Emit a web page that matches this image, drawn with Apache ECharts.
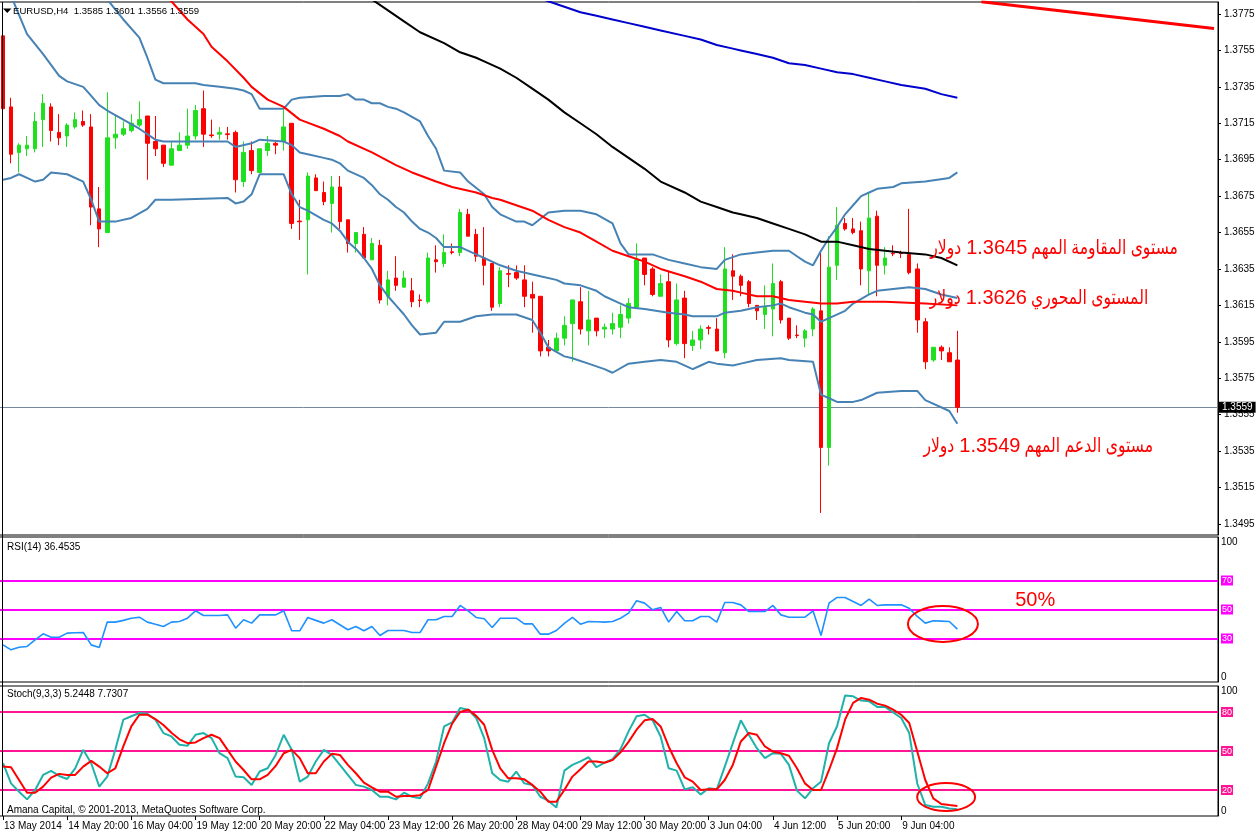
<!DOCTYPE html>
<html><head><meta charset="utf-8">
<script src="https://cdn.jsdelivr.net/npm/echarts@6/dist/echarts.min.js"></script>
<style>html,body{margin:0;padding:0;background:#fff}#c{width:1258px;height:835px}</style>
</head><body><div id="c"></div>
<script>
// ---------- categories (H4 bars) ----------
const times = [
"13 May 12:00","13 May 16:00","13 May 20:00",
"14 May 00:00","14 May 04:00","14 May 08:00","14 May 12:00","14 May 16:00","14 May 20:00",
"15 May 00:00","15 May 04:00","15 May 08:00","15 May 12:00","15 May 16:00","15 May 20:00",
"16 May 00:00","16 May 04:00","16 May 08:00","16 May 12:00","16 May 16:00","16 May 20:00",
"19 May 00:00","19 May 04:00","19 May 08:00","19 May 12:00","19 May 16:00","19 May 20:00",
"20 May 00:00","20 May 04:00","20 May 08:00","20 May 12:00","20 May 16:00","20 May 20:00",
"21 May 00:00","21 May 04:00","21 May 08:00","21 May 12:00","21 May 16:00","21 May 20:00",
"22 May 00:00","22 May 04:00","22 May 08:00","22 May 12:00","22 May 16:00","22 May 20:00",
"23 May 00:00","23 May 04:00","23 May 08:00","23 May 12:00","23 May 16:00","23 May 20:00",
"26 May 00:00","26 May 04:00","26 May 08:00","26 May 12:00","26 May 16:00","26 May 20:00",
"27 May 00:00","27 May 04:00","27 May 08:00","27 May 12:00","27 May 16:00","27 May 20:00",
"28 May 00:00","28 May 04:00","28 May 08:00","28 May 12:00","28 May 16:00","28 May 20:00",
"29 May 00:00","29 May 04:00","29 May 08:00","29 May 12:00","29 May 16:00","29 May 20:00",
"30 May 00:00","30 May 04:00","30 May 08:00","30 May 12:00","30 May 16:00","30 May 20:00",
"2 Jun 00:00","2 Jun 04:00","2 Jun 08:00","2 Jun 12:00","2 Jun 16:00","2 Jun 20:00",
"3 Jun 00:00","3 Jun 04:00","3 Jun 08:00","3 Jun 12:00","3 Jun 16:00","3 Jun 20:00",
"4 Jun 00:00","4 Jun 04:00","4 Jun 08:00","4 Jun 12:00","4 Jun 16:00","4 Jun 20:00",
"5 Jun 00:00","5 Jun 04:00","5 Jun 08:00","5 Jun 12:00","5 Jun 16:00","5 Jun 20:00",
"6 Jun 00:00","6 Jun 04:00","6 Jun 08:00","6 Jun 12:00","6 Jun 16:00","6 Jun 20:00",
"9 Jun 00:00","9 Jun 04:00","9 Jun 08:00","9 Jun 12:00","9 Jun 16:00","9 Jun 20:00",
"10 Jun 00:00","10 Jun 04:00","10 Jun 08:00"];
const xTickLabels = ["13 May 2014","14 May 20:00","16 May 04:00","19 May 12:00","20 May 20:00","22 May 04:00","23 May 12:00","26 May 20:00","28 May 04:00","29 May 12:00","30 May 20:00","3 Jun 04:00","4 Jun 12:00","5 Jun 20:00","9 Jun 04:00"];
const xTickStep = 8;
const priceTicks = [1.3495,1.3515,1.3535,1.3555,1.3575,1.3595,1.3615,1.3635,1.3655,1.3675,1.3695,1.3715,1.3735,1.3755,1.3775];
const rsiTicks = [0,30,50,70,100];
const rsiLevels = [30,50,70];
const stochTicks = [0,20,50,80,100];
const stochLevels = [20,50,80];

// ---------- candles ----------
const open = [1.3763,1.3724,1.3699,1.3701,1.3701,1.3717,1.3724,1.3710,1.3708,1.3713,
1.3716,1.3713,1.3668,1.3655,1.3707,1.3709,1.3711,1.3714,1.3719,1.3705,
1.3703,1.3692,1.3700,1.3703,1.3708,1.3723,1.37086,1.3709,1.37092,1.3710,
1.3683,1.3700,1.3688,1.3700,1.3704,1.3705,1.3715,1.36613,1.3662,1.3685,
1.3677,1.3671,1.3680,1.3662,1.3649,1.3654,1.3640,1.3648,1.3620,1.3630,
1.3625,1.3623,1.36180,1.3617,1.3640,1.3638,1.36444,1.3644,1.3665,1.3654,
1.3641,1.3638,1.3616,1.36325,1.3633,1.3629,1.3621,1.3620,1.3592,1.3590,
1.3597,1.3605,1.3617,1.3601,1.3608,1.3602,1.3602,1.3603,1.3608,1.3614,
1.3641,1.3635,1.3620,1.3628,1.3594,1.3619,1.3593,1.3596,1.36028,1.3602,
1.3589,1.3634,1.3631,1.3628,1.3615,1.3610,1.3613,1.3628,1.3608,1.35987,
1.3597,1.3602,1.3612,1.3537,1.3637,1.3660,1.3657,1.3656,1.3634,1.3664,
1.3637,1.36436,1.36438,1.3643,1.3635,1.3606,1.3585,1.3592,1.3589,1.3585];
const high = [1.3764,1.3729,1.3704,1.3708,1.3721,1.3731,1.3726,1.3720,1.3715,1.3721,
1.3722,1.3720,1.3680,1.3732,1.3719,1.3716,1.3720,1.3727,1.3719,1.3719,
1.3703,1.3705,1.3710,1.3723,1.3725,1.3733,1.3717,1.3713,1.3713,1.3711,
1.3705,1.3705,1.3701,1.3708,1.3705,1.3723,1.3715,1.3673,1.3688,1.3687,
1.3683,1.3686,1.3686,1.3662,1.3655,1.3658,1.3652,1.3651,1.3634,1.3642,
1.3634,1.3630,1.3621,1.3644,1.3648,1.3654,1.3649,1.3668,1.3668,1.3657,
1.3658,1.3638,1.3636,1.3637,1.3637,1.3637,1.3628,1.3620,1.3596,1.3600,
1.3609,1.3618,1.3625,1.3623,1.3608,1.3605,1.3611,1.3615,1.3619,1.3649,
1.3641,1.3636,1.3632,1.3634,1.3627,1.3623,1.3601,1.3604,1.3604,1.3608,
1.3647,1.3643,1.3632,1.3629,1.3615,1.3626,1.3638,1.3629,1.3608,1.3604,
1.3602,1.3614,1.3644,1.3653,1.3669,1.3663,1.3663,1.3661,1.3677,1.3667,
1.3647,1.3648,1.3645,1.3668,1.3638,1.3608,1.3592,1.3593,1.3592,1.3601];
const low = [1.3698,1.3693,1.3688,1.3697,1.3699,1.3702,1.3705,1.3703,1.3702,1.3712,
1.3713,1.3659,1.3647,1.3655,1.3701,1.3708,1.3710,1.3713,1.3684,1.3697,
1.3691,1.3692,1.3700,1.3701,1.3706,1.3702,1.3707,1.3706,1.3706,1.3677,
1.3680,1.3687,1.3688,1.3697,1.3698,1.3700,1.3657,1.3651,1.3632,1.3678,
1.3670,1.3655,1.3657,1.3644,1.3644,1.3641,1.3640,1.3616,1.3615,1.3623,
1.3625,1.3614,1.3614,1.3616,1.3633,1.3636,1.3643,1.3642,1.3653,1.3639,
1.3626,1.3612,1.3614,1.3625,1.3629,1.3614,1.3600,1.3587,1.3587,1.3590,
1.3593,1.3584,1.3599,1.3593,1.3598,1.3597,1.3599,1.3597,1.3605,1.3614,
1.3626,1.3620,1.3620,1.3592,1.3593,1.3586,1.3590,1.3591,1.3599,1.3590,
1.3586,1.3618,1.3620,1.3614,1.3607,1.3602,1.3598,1.3605,1.3596,1.3597,
1.3592,1.3598,1.3501,1.3527,1.3629,1.3656,1.3654,1.3626,1.3621,1.3620,
1.3632,1.3642,1.3641,1.3632,1.3600,1.3580,1.3584,1.3585,1.3584,1.3556];
const close = [1.3723,1.3698,1.3703,1.3703,1.3716,1.3726,1.3711,1.3707,1.3714,1.3717,
1.3714,1.3669,1.3657,1.3707,1.3709,1.3712,1.3715,1.3717,1.3704,1.3701,
1.3693,1.3701,1.3703,1.3708,1.3722,1.3709,1.37082,1.3710,1.37088,1.3684,
1.3699,1.3689,1.3701,1.3704,1.3703,1.3713,1.3660,1.36609,1.3686,1.3678,
1.3672,1.3680,1.3661,1.3649,1.3655,1.3641,1.3649,1.3618,1.3629,1.3626,
1.3630,1.3617,1.36177,1.3641,1.3639,1.3644,1.3644,1.3666,1.3653,1.3642,
1.3637,1.3614,1.3634,1.36321,1.3630,1.3620,1.3619,1.3590,1.3590,1.3597,
1.3604,1.3618,1.3602,1.3607,1.3601,1.3603,1.3605,1.3610,1.3616,1.3640,
1.3632,1.3621,1.3627,1.3596,1.3618,1.3594,1.3596,1.3602,1.36024,1.3590,
1.3635,1.3631,1.3626,1.3616,1.3612,1.3614,1.3627,1.3607,1.3597,1.35984,
1.3601,1.3613,1.3537,1.3636,1.3659,1.3657,1.3655,1.3635,1.3663,1.3637,
1.3641,1.36433,1.36435,1.3633,1.3607,1.3584,1.3592,1.3590,1.3584,1.3559];

// ---------- overlays on the price panel: [bar index, price] ----------
const bbUpper = [[0,1.3818],[5,1.3810],[10,1.3795],[13,1.3783],[15,1.3772],[17,1.3762],[18,1.3751],[19,1.3739],[20,1.3737],[24,1.3737],[25,1.3736],[27,1.3735],[29,1.3734],[30,1.3733],[31,1.3731],[32,1.3723],[35,1.3723],[36,1.3728],[37,1.3729],[40,1.3730],[42,1.3730],[43,1.3731],[44,1.3728],[45,1.3728],[46,1.3726],[47,1.3726],[48,1.3724],[49,1.3723],[50,1.3721],[52,1.3716],[53,1.3708],[54,1.3701],[55,1.3689],[57,1.3688],[58,1.3683],[60,1.3676],[61,1.3669],[62,1.3665],[64,1.3661],[65,1.3661],[66,1.3659],[68,1.3666],[70,1.3667],[72,1.3667],[74,1.3665],[76,1.3660],[77,1.3649],[78,1.3643],[81,1.3643],[83,1.3640],[85,1.3638],[87,1.3636],[89,1.3635],[90,1.3640],[92,1.3643],[94,1.3644],[96,1.3645],[98,1.3645],[99,1.3642],[100,1.3639],[101,1.3637],[102,1.3645],[103,1.3652],[104,1.3658],[105,1.3665],[106,1.3670],[107,1.3675],[108,1.3677],[109,1.3679],[111,1.3680],[112,1.3682],[115,1.3683],[118,1.3685],[119,1.3688]];
const bbMiddle = [[0,1.3796],[1,1.3785],[3,1.3764],[5,1.3753],[7,1.3741],[8,1.3738],[10,1.3735],[11,1.3730],[12,1.3725],[13,1.3722],[15,1.3717],[17,1.3712],[19,1.3706],[20,1.3705],[28,1.3705],[29,1.3702],[31,1.3704],[32,1.3706],[35,1.3705],[36,1.3703],[37,1.3699],[38,1.3698],[40,1.3696],[41,1.3695],[42,1.3693],[43,1.3689],[45,1.3685],[46,1.3681],[47,1.3676],[48,1.3673],[49,1.3669],[50,1.3666],[51,1.3661],[52,1.3657],[53,1.3655],[54,1.3652],[55,1.3647],[57,1.3647],[59,1.3643],[60,1.3641],[62,1.3637],[64,1.3634],[67,1.3631],[69,1.3629],[70,1.3627],[72,1.3626],[74,1.3623],[75,1.3620],[77,1.3616],[78,1.3614],[80,1.3613],[83,1.3611],[85,1.3610],[86,1.3609],[89,1.3609],[90,1.3611],[92,1.3612],[94,1.3614],[96,1.3615],[97,1.3616],[98,1.3614],[100,1.3611],[101,1.3610],[102,1.3606],[103,1.3608],[105,1.3612],[106,1.3616],[108,1.3621],[109,1.3623],[111,1.3624],[113,1.3625],[115,1.3624],[117,1.3621],[119,1.3619]];
const bbLower = [[0,1.3684],[1,1.3685],[2,1.3687],[3,1.3685],[4,1.3683],[5,1.3684],[6,1.3688],[8,1.3687],[10,1.3683],[11,1.3673],[12,1.3661],[14,1.3661],[16,1.3663],[18,1.3668],[19,1.3673],[21,1.3673],[28,1.3674],[29,1.3671],[30,1.3672],[31,1.3676],[32,1.3687],[35,1.3687],[36,1.3676],[37,1.3669],[38,1.3667],[40,1.3662],[41,1.3660],[42,1.3656],[43,1.3650],[44,1.3646],[45,1.3641],[46,1.3635],[47,1.3626],[48,1.3620],[49,1.3615],[50,1.3610],[51,1.3604],[52,1.3599],[54,1.3600],[55,1.3606],[57,1.3606],[59,1.3609],[61,1.3610],[64,1.3610],[66,1.3607],[67,1.3600],[68,1.3592],[70,1.3587],[71,1.3586],[73,1.3583],[75,1.3580],[76,1.3578],[78,1.3583],[80,1.3584],[82,1.3585],[84,1.3584],[86,1.3580],[87,1.3582],[88,1.3584],[89,1.3583],[91,1.3582],[92,1.3583],[94,1.3585],[97,1.3586],[98,1.3585],[101,1.3584],[102,1.3566],[103,1.3564],[104,1.3562],[106,1.3562],[107,1.3563],[109,1.3567],[112,1.3568],[114,1.3568],[115,1.3563],[118,1.3557],[119,1.3550]];
const maRed = [[0,1.3822],[5,1.3812],[10,1.3803],[15,1.3795],[20,1.3785],[21,1.3782],[23,1.3772],[25,1.3764],[26,1.3757],[28,1.3749],[30,1.3740],[31,1.3735],[33,1.3728],[35,1.3724],[37,1.3717],[40,1.3712],[42,1.3708],[43,1.3705],[46,1.3699],[49,1.3692],[51,1.3688],[54,1.3683],[56,1.3680],[59,1.3677],[61,1.3674],[62,1.3673],[64,1.3670],[66,1.3667],[68,1.3662],[70,1.3658],[72,1.3655],[74,1.3650],[76,1.3645],[78,1.3642],[80,1.3639],[82,1.3635],[85,1.3631],[87,1.3628],[89,1.3624],[91,1.3623],[92,1.3622],[94,1.3620],[96,1.3620],[98,1.3618],[100,1.3617],[102,1.3616],[104,1.3616],[106,1.3617],[110,1.3617],[115,1.3616],[119,1.3615]];
const maBlack = [[36,1.3812],[40,1.3800],[44,1.3789],[46,1.3783],[48,1.3777],[50,1.3771],[52,1.3765],[55,1.3759],[57,1.3754],[59,1.3751],[60,1.3749],[62,1.3745],[64,1.3740],[66,1.3734],[68,1.3728],[70,1.3721],[72,1.3715],[74,1.3709],[76,1.3702],[78,1.3696],[80,1.3690],[82,1.3683],[85,1.3677],[87,1.3672],[89,1.3669],[91,1.3666],[92,1.3665],[94,1.3663],[96,1.3660],[98,1.3657],[100,1.3654],[102,1.3650],[104,1.3650],[106,1.3648],[108,1.3646],[110,1.3645],[112,1.3644],[115,1.3643],[117,1.3641],[119,1.3637]];
const maBlue = [[56,1.3805],[60,1.3796],[64,1.3789],[68,1.3782],[70,1.3779],[72,1.3776],[74,1.3774],[76,1.3772],[78,1.3770],[80,1.3768],[82,1.3766],[85,1.3763],[87,1.3761],[89,1.3758],[91,1.3756],[92,1.3755],[94,1.3753],[96,1.3751],[98,1.3748],[100,1.3747],[102,1.3745],[104,1.3743],[106,1.3742],[108,1.3740],[110,1.3738],[112,1.3736],[115,1.3734],[117,1.3731],[119,1.3729]];
const shiftedRed = [[122,1.37818],[151,1.37670]];

// ---------- RSI(14) ----------
const rsi = [25.6,22.2,24.0,24.5,29.1,33.2,30.9,30.9,33.7,34.0,34.1,25.6,23.8,41.3,41.3,42.5,44.0,44.7,41.3,39.8,
38.3,41.3,41.7,44.0,49.1,45.9,45.9,45.9,46.3,37.1,42.9,40.6,46.3,46.3,46.3,49.1,35.3,35.3,44.5,42.5,
40.6,42.9,39.5,36.0,38.3,35.3,38.3,32.1,35.5,35.5,35.5,34.1,34.1,42.9,42.9,45.2,45.2,52.8,49.1,44.5,
43.6,37.6,44.0,44.0,44.0,40.1,40.1,33.0,33.0,35.5,40.4,44.5,39.9,41.7,41.5,41.3,41.7,44.0,47.5,56.0,
54.4,49.8,51.4,41.3,48.6,42.2,42.2,45.2,45.2,41.3,54.8,54.8,53.2,48.6,48.6,48.6,52.8,46.3,44.7,44.7,
44.7,49.1,32.1,54.4,58.3,58.3,55.5,52.8,57.1,52.8,53.2,53.2,53.2,50.9,45.2,40.6,42.2,42.0,41.7,36.4535];

// ---------- Stochastic(9,3,3) ----------
const stochMain = [40.6,25.1,18.7,12.8,20.0,31.6,34.7,30.8,28.5,36.7,50.9,40.6,22.6,30.3,50.9,74.1,76.7,79.2,78.7,74.1,
63.8,61.2,54.8,54.0,62.5,63.8,59.9,48.3,44.5,30.3,29.8,23.9,34.2,36.7,47.0,62.5,50.9,26.4,30.3,41.9,
50.9,47.0,39.3,31.6,23.9,22.6,20.0,14.8,14.8,12.8,17.9,14.8,13.6,25.1,41.9,68.9,72.0,83.1,81.8,75.4,
59.9,32.9,27.7,26.4,34.2,25.1,23.9,14.8,11.8,6.6,34.9,39.3,42.0,45.2,37.5,41.1,43.7,51.4,65.1,76.7,
77.9,73.6,61.2,36.7,34.9,20.5,22.1,16.6,21.3,20.5,38.0,56.0,73.6,62.5,52.2,44.5,48.3,47.8,39.3,19.5,
13.6,21.3,26.4,56.0,69.0,92.6,92.1,88.8,88.2,83.9,83.9,79.7,75.4,63.8,25.0,8.4,7.1,7.1,5.8,5.2448];
const stochSignal = [38.0,37.5,27.7,17.9,17.9,22.6,29.5,32.4,31.6,31.6,38.0,42.4,38.0,32.9,36.7,53.5,68.9,77.9,77.9,74.6,
70.0,64.0,59.0,56.0,56.6,59.9,62.5,59.9,50.9,41.9,35.4,28.2,28.2,31.6,38.5,48.3,50.9,44.5,32.9,32.9,
41.9,47.8,47.0,39.3,32.9,25.7,22.1,18.7,18.7,14.8,15.4,15.4,16.0,20.0,38.0,56.0,71.0,80.0,81.8,77.0,
70.2,50.9,36.7,29.0,29.0,28.2,23.9,18.7,11.0,11.0,20.0,30.3,36.0,41.9,41.9,41.0,43.0,49.0,57.0,66.4,
73.6,74.6,68.9,53.5,40.6,29.8,26.4,20.0,20.5,20.5,27.7,39.3,57.3,63.8,62.5,53.5,49.6,48.3,46.3,36.7,
25.1,20.0,20.0,35.4,52.2,74.1,87.0,90.8,89.5,86.4,84.9,81.8,77.9,71.5,49.6,27.7,13.6,9.2,8.4,7.7307];

// ---------- annotations ----------
const notes = [
  {phrase:'مستوى المقاومة المهم', number:'1.3645', currency:'دولار', idx:146.5, price:1.3646},
  {phrase:'المستوى المحوري', number:'1.3626', currency:'دولار', idx:142.8, price:1.3619},
  {phrase:'مستوى الدعم المهم', number:'1.3549', currency:'دولار', idx:143.4, price:1.35375}
];
const rsiNote = {text:'50%', idx:128.7, value:56.5};

// ---------- build ----------
const FONT = '"Liberation Sans", Arial, "DejaVu Sans", sans-serif';
const padBars = 32;
const cats = times.concat(Array.from({length: padBars}, (_, k) => 'pad' + k));
const last = close.length - 1;
const candles = open.map((o, i) => [o, close[i], low[i], high[i]]);
const showTick = (i) => i % xTickStep === 0 && i < times.length;
const GREEN = '#1fe01f', RED = '#ff0000';

const chart = echarts.init(document.getElementById('c'), null, {renderer: 'canvas', width: 1258, height: 835});
const titleStyle = {fontSize: 10, fontWeight: 'normal', color: '#000', fontFamily: FONT, lineHeight: 12};
const gridBase = {left: -1, right: 40, show: true, borderColor: '#000', borderWidth: 1, containLabel: false, outerBoundsMode: 'none'};

function lineS(data, color, width, z) {
  return {type: 'line', xAxisIndex: 0, yAxisIndex: 0, data, symbol: 'none', showSymbol: false,
    lineStyle: {color, width}, silent: true, z: z || 4, clip: true};
}
function levelLabel(col) {
  return {lv: {color: '#fff', backgroundColor: col, fontSize: 9, padding: [1, 1, 0, 1], fontFamily: FONT}};
}

const option = {
  animation: false,
  backgroundColor: '#fff',
  textStyle: {fontFamily: FONT},
  title: [
    {text: 'EURUSD,H4  ' + [open[last], high[last], low[last], close[last]].map(v => v.toFixed(4)).join(' '), left: 13, top: 5, padding: 0,
      textStyle: Object.assign({}, titleStyle, {fontSize: 9.6})},
    {text: 'RSI(14) ' + rsi[last].toFixed(4), left: 7, top: 541, padding: 0, textStyle: titleStyle},
    {text: 'Stoch(9,3,3) ' + stochMain[last].toFixed(4) + ' ' + stochSignal[last].toFixed(4), left: 7, top: 688, padding: 0, textStyle: titleStyle},
    {text: 'Amana Capital, © 2001-2013, MetaQuotes Software Corp.', left: 7, top: 804, padding: 0, textStyle: titleStyle}
  ],
  grid: [
    Object.assign({top: 2, height: 533}, gridBase),
    Object.assign({top: 537, height: 145}, gridBase),
    Object.assign({top: 686, height: 130}, gridBase)
  ],
  xAxis: [0, 1, 2].map(g => ({
    type: 'category', gridIndex: g, data: cats, boundaryGap: true, show: g === 2,
    axisLine: {show: false},
    axisTick: {show: true, alignWithLabel: true, interval: showTick, length: 4, lineStyle: {color: '#000'}},
    axisLabel: {show: true, interval: showTick, formatter: (v, i) => xTickLabels[i / xTickStep] || '',
      align: 'left', margin: 5, color: '#000', fontSize: 10, fontFamily: FONT, padding: [0, 0, 0, 1]},
    splitLine: {show: false}
  })),
  yAxis: [
    {type: 'value', gridIndex: 0, position: 'right', min: 1.34889, max: 1.37816,
      axisLine: {show: true, lineStyle: {color: '#000'}},
      axisTick: {show: true, length: 3, customValues: priceTicks, lineStyle: {color: '#000'}},
      axisLabel: {customValues: priceTicks, formatter: v => v.toFixed(4), color: '#000', fontSize: 10, margin: 6, fontFamily: FONT},
      splitLine: {show: false}},
    {type: 'value', gridIndex: 1, position: 'right', min: 0, max: 100,
      axisLine: {show: true, lineStyle: {color: '#000'}},
      axisTick: {show: false},
      axisLabel: {customValues: rsiTicks, color: '#000', fontSize: 10, margin: 3, fontFamily: FONT,
        verticalAlignMinLabel: 'bottom', verticalAlignMaxLabel: 'top',
        formatter: v => rsiLevels.includes(v) ? '{lv|' + v + '}' : String(v), rich: levelLabel('#ff00ff')},
      splitLine: {show: false}},
    {type: 'value', gridIndex: 2, position: 'right', min: 0, max: 100,
      axisLine: {show: true, lineStyle: {color: '#000'}},
      axisTick: {show: false},
      axisLabel: {customValues: stochTicks, color: '#000', fontSize: 10, margin: 3, fontFamily: FONT,
        verticalAlignMinLabel: 'bottom', verticalAlignMaxLabel: 'top',
        formatter: v => stochLevels.includes(v) ? '{lv|' + v + '}' : String(v), rich: levelLabel('#ff1493')},
      splitLine: {show: false}}
  ],
  series: [
    {type: 'line', name: 'Bid line', xAxisIndex: 0, yAxisIndex: 0, data: [], silent: true,
      markLine: {silent: true, symbol: ['none', 'none'], z: 2, precision: 5,
        lineStyle: {color: '#778899', width: 1, type: 'solid'},
        label: {show: true, position: 'end', distance: 1, formatter: () => close[last].toFixed(4),
          backgroundColor: '#000', color: '#fff', fontSize: 10, fontFamily: FONT, padding: [1, 3, 0, 3]},
        data: [{yAxis: close[last]}]}},
    {type: 'candlestick', name: 'EURUSD', xAxisIndex: 0, yAxisIndex: 0, data: candles, barWidth: 4, z: 3,
      itemStyle: {color: GREEN, color0: RED, borderColor: GREEN, borderColor0: RED, borderWidth: 1}},
    lineS(bbUpper, '#4682b4', 2),
    lineS(bbMiddle, '#4682b4', 2),
    lineS(bbLower, '#4682b4', 2),
    lineS(maRed, '#ff0000', 2),
    lineS(maBlack, '#000000', 2),
    lineS(maBlue, '#0000cd', 2),
    lineS(shiftedRed, '#ff0000', 3),
    {type: 'line', name: 'RSI levels', xAxisIndex: 1, yAxisIndex: 1, data: [], silent: true,
      markLine: {silent: true, symbol: ['none', 'none'], z: 2, precision: 5, label: {show: false},
        lineStyle: {color: '#ff00ff', width: 2, type: 'solid'}, data: rsiLevels.map(v => ({yAxis: v}))}},
    {type: 'line', name: 'RSI', xAxisIndex: 1, yAxisIndex: 1, data: rsi, symbol: 'none', silent: true, z: 6,
      lineStyle: {color: '#1e90ff', width: 1.6}},
    {type: 'line', name: 'Stoch levels', xAxisIndex: 2, yAxisIndex: 2, data: [], silent: true,
      markLine: {silent: true, symbol: ['none', 'none'], z: 2, precision: 5, label: {show: false},
        lineStyle: {color: '#ff1493', width: 2, type: 'solid'}, data: stochLevels.map(v => ({yAxis: v}))}},
    {type: 'line', name: 'Stoch main', xAxisIndex: 2, yAxisIndex: 2, data: stochMain, symbol: 'none', silent: true, z: 6,
      lineStyle: {color: '#20b2aa', width: 2}},
    {type: 'line', name: 'Stoch signal', xAxisIndex: 2, yAxisIndex: 2, data: stochSignal, symbol: 'none', silent: true, z: 7,
      lineStyle: {color: '#ff0000', width: 2}}
  ]
};
chart.setOption(option);

// ---------- annotations placed through the axes ----------
const x0 = chart.convertToPixel({xAxisIndex: 0}, 0);
const bw = chart.convertToPixel({xAxisIndex: 0}, 1) - x0;
const xAt = idx => x0 + idx * bw;
const yMain = v => chart.convertToPixel({yAxisIndex: 0}, v);
const yRsi = v => chart.convertToPixel({yAxisIndex: 1}, v);
const ySto = v => chart.convertToPixel({yAxisIndex: 2}, v);
const BIG = '20px "Liberation Sans", Arial, "DejaVu Sans", sans-serif';
const AR_SCALE = 0.78;
const mctx = document.createElement('canvas').getContext('2d');
mctx.font = BIG;
const graphics = [];
const txt = (text, x, y, align, sx) => ({type: 'text', x, y, scaleX: sx || 1, z: 20, silent: true,
  style: {text, fill: '#ff0000', font: BIG, align, verticalAlign: 'middle'}});
notes.forEach(n => {
  const R = xAt(n.idx), y = yMain(n.price);
  const phraseW = mctx.measureText(n.phrase).width * AR_SCALE;
  const numW = mctx.measureText(n.number).width;
  const numRight = R - phraseW - 4;
  const curRight = numRight - numW - 5;
  graphics.push(txt(n.phrase, R, y, 'right', AR_SCALE));
  graphics.push(txt(n.number, numRight, y, 'right'));
  graphics.push(txt(n.currency, curRight, y, 'right', AR_SCALE));
});
graphics.push(txt(rsiNote.text, xAt(rsiNote.idx), yRsi(rsiNote.value), 'center'));
graphics.push({type: 'ellipse', z: 20, silent: true, shape: {cx: xAt(117.2), cy: yRsi(40), rx: 35, ry: 18},
  style: {stroke: '#ff0000', lineWidth: 2, fill: 'none'}});
graphics.push({type: 'ellipse', z: 20, silent: true, shape: {cx: xAt(117.6), cy: ySto(14.6), rx: 29, ry: 14},
  style: {stroke: '#ff0000', lineWidth: 2, fill: 'none'}});
graphics.push({type: 'line', z: 20, silent: true, shape: {x1: 2.5, y1: 2, x2: 2.5, y2: 816},
  style: {stroke: '#000', lineWidth: 1}});
graphics.push({type: 'polygon', z: 20, silent: true, shape: {points: [[3, 8.5], [11.5, 8.5], [7.25, 13]]},
  style: {fill: '#000'}});
chart.setOption({graphic: graphics});
</script>
</body></html>
